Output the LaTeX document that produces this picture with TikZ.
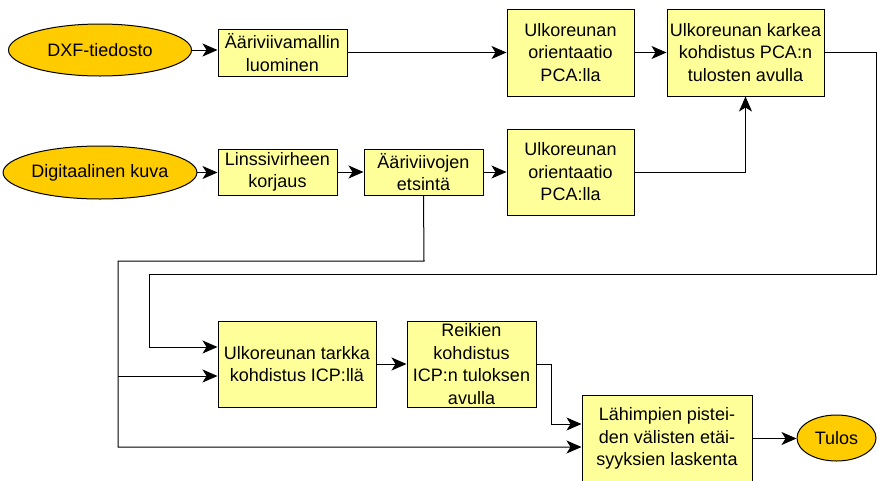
\documentclass[tikz,border=0pt]{standalone}
\usepackage{fontspec}
\setmainfont{Liberation Sans}
\usetikzlibrary{arrows.meta,shapes.geometric}
\definecolor{boxfill}{HTML}{FFFF99}
\definecolor{ellfill}{HTML}{FFCC00}
\begin{document}
\begin{tikzpicture}[x=1pt,y=-1pt,
  every node/.style={font=\fontsize{18}{22.5}\selectfont, align=center, inner sep=0pt},
  procbox/.style={draw, line width=1pt, fill=boxfill, rectangle},
  termell/.style={draw, line width=1pt, fill=ellfill, ellipse},
  conn/.style={line width=1pt, -{Stealth[length=15pt,width=13pt,inset=4pt]}},
  plain/.style={line width=1pt}]
\useasboundingbox (0,0) rectangle (877,480);
% nodes
\node[termell, minimum width=183pt, minimum height=52pt] (dxf) at (100,50) {DXF-tiedosto};
\node[procbox, minimum width=129pt, minimum height=47pt] (mall) at (282.5,52.5) {Ääriviivamallin\\luominen};
\node[procbox, minimum width=127pt, minimum height=87pt] (ori1) at (570.5,52.5) {Ulkoreunan\\orientaatio\\PCA:lla};
\node[procbox, minimum width=157pt, minimum height=87pt] (karkea) at (745.5,52.5) {Ulkoreunan karkea\\kohdistus PCA:n\\tulosten avulla};
\node[termell, minimum width=183pt, minimum height=53pt] (dig) at (100,172.5) {Digitaalinen kuva};
\node[procbox, minimum width=119pt, minimum height=46pt] (lins) at (277.5,172) {Linssivirheen\\korjaus};
\node[procbox, minimum width=119pt, minimum height=46pt] (ets) at (423.5,172) {Ääriviivojen\\etsintä};
\node[procbox, minimum width=127pt, minimum height=86pt] (ori2) at (570.5,172) {Ulkoreunan\\orientaatio\\PCA:lla};
\node[procbox, minimum width=158pt, minimum height=86pt] (tarkka) at (297,364) {Ulkoreunan tarkka\\kohdistus ICP:llä};
\node[procbox, minimum width=129pt, minimum height=86pt] (reik) at (471.5,364) {Reikien\\kohdistus\\ICP:n tuloksen\\avulla};
\node[procbox, minimum width=170pt, minimum height=87pt] (lah) at (667,438.5) {Lähimpien pistei-\\den välisten etäi-\\syyksien laskenta};
\node[termell, minimum width=79pt, minimum height=46pt] (tulos) at (836.5,438) {Tulos};
% helper coordinates
\coordinate (k1) at (876,52.5);
\coordinate (k2) at (876,274);
\coordinate (k3) at (149,274);
\coordinate (k4) at (149,347);
\coordinate (e1) at (424,261);
\coordinate (e2) at (118,261);
\coordinate (e3) at (118,376);
\coordinate (e4) at (118,447);
\coordinate (r1) at (551,364);
\coordinate (r2) at (551,424);
% connectors
\draw[conn] (dxf.east) -- (dxf.east -| mall.west);
\draw[conn] (mall.east) -- (ori1.west);
\draw[conn] (ori1.east) -- (karkea.west);
\draw[conn] (karkea.east) -- (k1) -- (k2) -- (k3) -- (k4) -- (k4 -| tarkka.west);
\draw[conn] (dig.east) -- (dig.east -| lins.west);
\draw[conn] (lins.east) -- (ets.west);
\draw[conn] (ets.east) -- (ori2.west);
\draw[conn] (ori2.east) -| (karkea.south);
\draw[conn] (ets.south) -- (e1) -- (e2) -- (e4) -- (e4 -| lah.west);
\draw[conn] (e3) -- (e3 -| tarkka.west);
\draw[conn] (tarkka.east) -- (reik.west);
\draw[conn] (reik.east) -- (r1) -- (r2) -- (r2 -| lah.west);
\draw[conn] (lah.east) -- (lah.east -| tulos.west);
\end{tikzpicture}
\end{document}
